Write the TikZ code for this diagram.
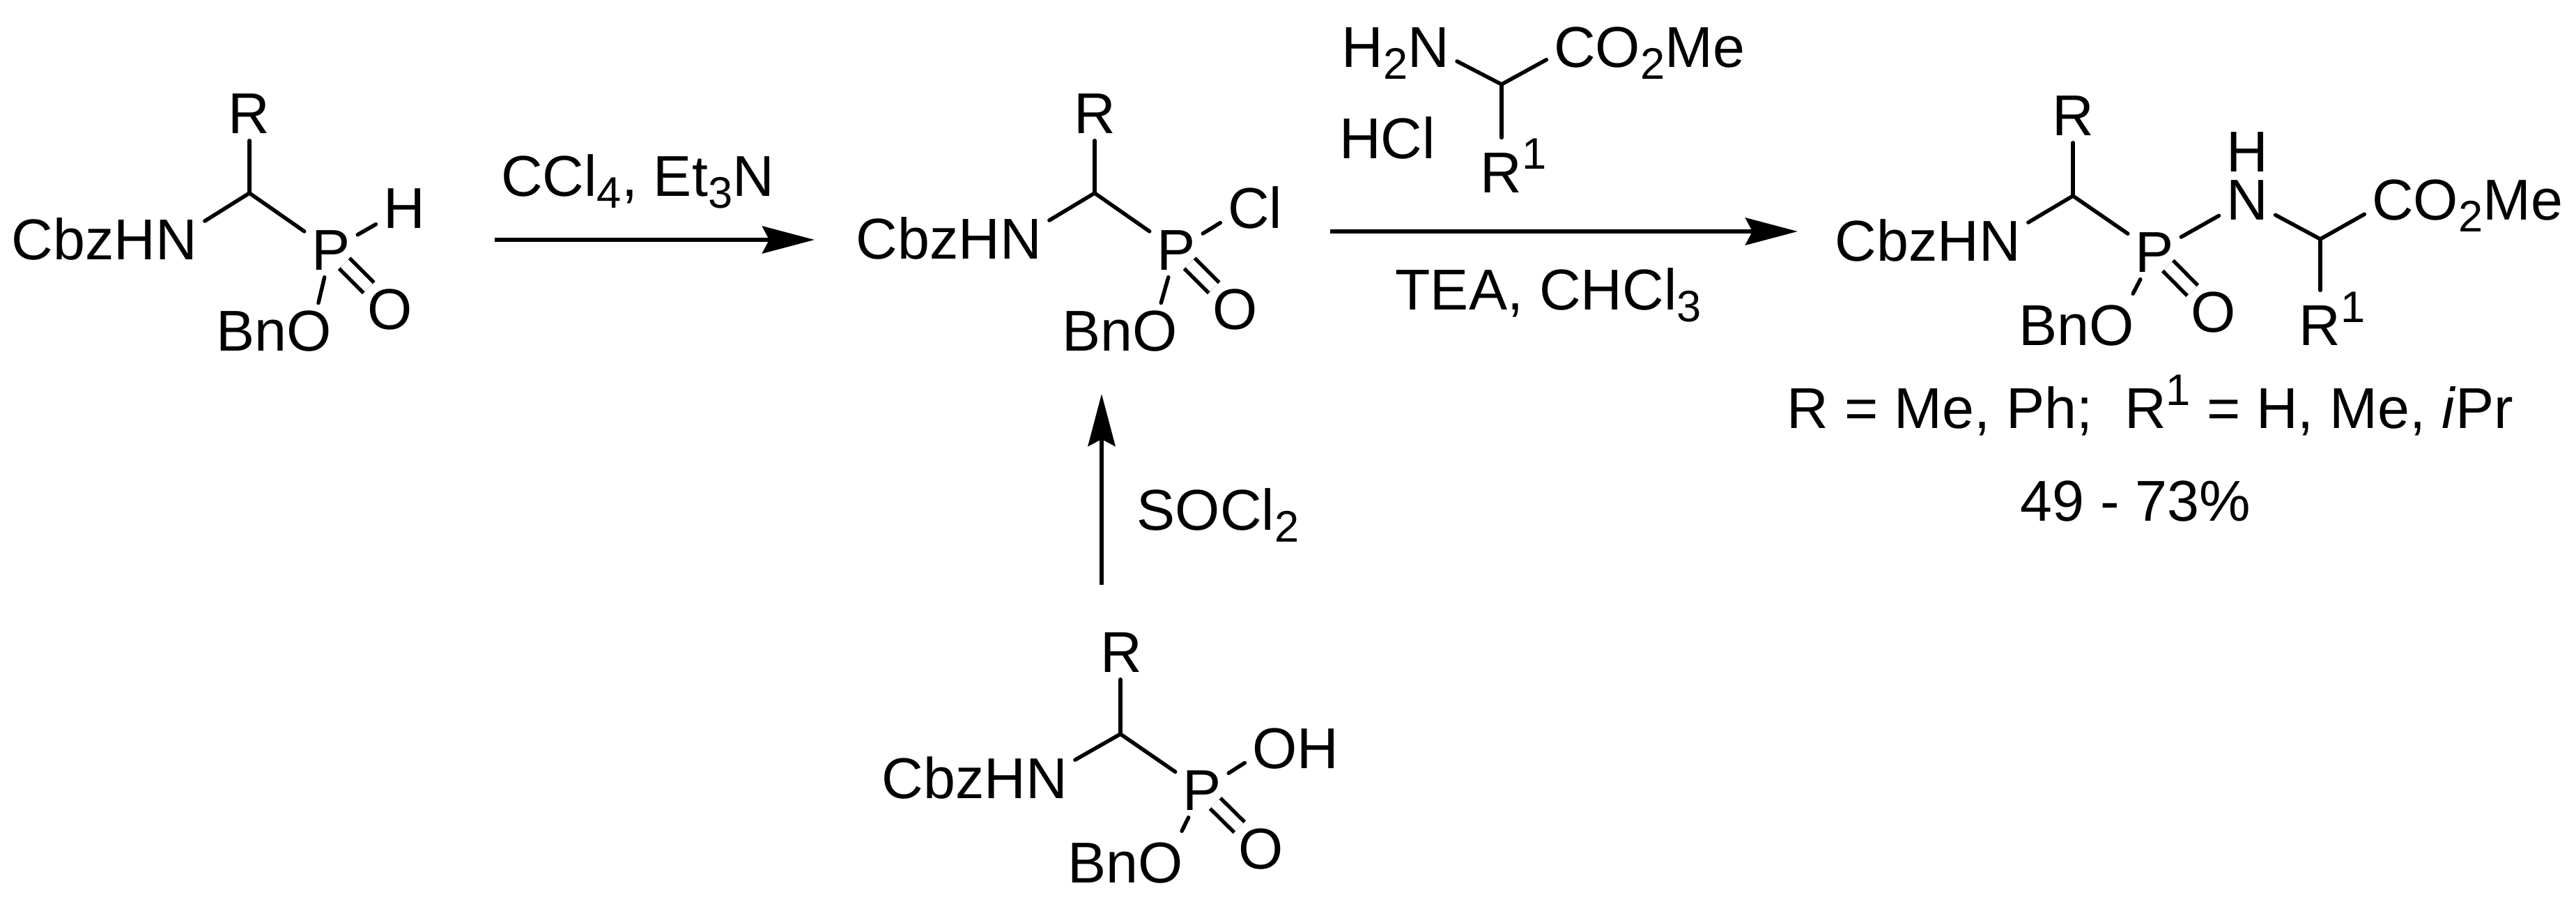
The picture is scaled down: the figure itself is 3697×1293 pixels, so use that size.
\documentclass[tikz,border=0pt]{standalone}
\usepackage{fontspec}
\setmainfont{Liberation Sans}
\usetikzlibrary{arrows.meta}
\newcommand{\sbs}[1]{\smash{\raisebox{-0.17cm}{\fontsize{18}{20}\selectfont #1}}}
\newcommand{\sps}[1]{\smash{\raisebox{0.33cm}{\fontsize{18}{20}\selectfont #1}}}
\tikzset{
  atom/.style={anchor=base,inner sep=0.1cm,font=\fontsize{23.5}{27}\selectfont},
  bond/.style={line width=0.055cm,line cap=round},
  dbl/.style={line width=0.055cm,double,double distance=0.155cm,shorten <=-0.27cm,shorten >=-0.13cm},
  rxn/.style={line width=0.06cm,-{Stealth[length=0.75cm,width=0.39cm,inset=0.1cm]}}
}
\begin{document}
\begin{tikzpicture}[x=0.01cm,y=-0.01cm]
\useasboundingbox (0,0) rectangle (3697,1293);

% H-phosphinate, top left
\coordinate (c1) at (358,277);
\node[atom] (r1) at (357,191) {R};
\node[atom] (n1) at (150,372) {CbzHN};
\node[atom] (p1) at (475,387) {P};
\node[atom] (h1) at (580,327) {H};
\node[atom] (o1) at (560,472) {O};
\node[atom] (bo1) at (393,503) {BnO};
\draw[bond] (c1) -- (c1 |- r1.south);
\draw[bond] (c1) -- (n1.10);
\draw[bond] (c1) -- (p1);
\draw[bond] (p1) -- (h1);
\draw[bond] (p1) -- (bo1.32);
\draw[dbl] (p1) -- (o1);

% First arrow
\coordinate (a1s) at (710,344);
\coordinate (a1e) at (1169,344);
\draw[rxn] (a1s) -- (a1e);
\node[atom] (reag1) at (915,281) {CCl\sbs{4}, Et\sbs{3}N};

% Phosphonochloridate, middle
\coordinate (c2) at (1571,277);
\node[atom] (r2) at (1571,191) {R};
\node[atom] (n2) at (1362,371) {CbzHN};
\node[atom] (p2) at (1688,387) {P};
\node[atom] (cl2) at (1801,327) {Cl};
\node[atom] (o2) at (1773,472) {O};
\node[atom] (bo2) at (1607,503) {BnO};
\draw[bond] (c2) -- (c2 |- r2.south);
\draw[bond] (c2) -- (n2.10);
\draw[bond] (c2) -- (p2);
\draw[bond] (p2) -- (cl2.204);
\draw[bond] (p2) -- (bo2.34);
\draw[dbl] (p2) -- (o2);

% Second arrow with amino ester on top
\coordinate (a2s) at (1909,332);
\coordinate (a2e) at (2580,332);
\draw[rxn] (a2s) -- (a2e);
\coordinate (c5) at (2155,121);
\node[atom] (hn5) at (2003,96) {H\sbs{2}N};
\node[atom] (co5) at (2367,96) {CO\sbs{2}Me};
\node[atom] (hcl) at (1991,227) {HCl};
\node[atom,inner ysep=0.21cm] (r5) at (2172,276) {R\sps{1}};
\draw[bond] (c5) -- (hn5.-13);
\draw[bond] (c5) -- (co5.187);
\draw[bond] (c5) -- (c5 |- r5.north);
\node[atom] (reag2) at (2222,444) {TEA, CHCl\sbs{3}};

% Third arrow
\coordinate (a3s) at (1581,839);
\coordinate (a3e) at (1581,565);
\draw[rxn] (a3s) -- (a3e);
\node[atom] (reag3) at (1748,760) {SOCl\sbs{2}};

% Phosphonate monoester, bottom
\coordinate (c3) at (1608,1053);
\node[atom] (r3) at (1609,964) {R};
\node[atom] (n3) at (1399,1145) {CbzHN};
\node[atom] (p3) at (1725,1162) {P};
\node[atom] (oh3) at (1859,1102) {OH};
\node[atom] (o3) at (1810,1246) {O};
\node[atom] (bo3) at (1615,1266) {BnO};
\draw[bond] (c3) -- (c3 |- r3.south);
\draw[bond] (c3) -- (n3.10);
\draw[bond] (c3) -- (p3);
\draw[bond] (p3) -- (oh3.196);
\draw[bond,shorten >=0.06cm] (p3) -- (bo3.27);
\draw[dbl] (p3) -- (o3);

% Phosphonamidate product, right
\coordinate (c4) at (2975,281);
\coordinate (c6) at (3330,343);
\node[atom] (r4) at (2975,194) {R};
\node[atom] (n4) at (2767,374) {CbzHN};
\node[atom] (p4) at (3092,390) {P};
\node[atom] (n6) at (3225,315) {N};
\node[atom] (h6) at (3225,246) {H};
\node[atom] (o4) at (3177,476) {O};
\node[atom] (bo4) at (2980,495) {BnO};
\node[atom] (co6) at (3541,315) {CO\sbs{2}Me};
\node[atom,inner ysep=0.21cm] (r6) at (3347,495) {R\sps{1}};
\draw[bond] (c4) -- (c4 |- r4.south);
\draw[bond] (c4) -- (n4.10);
\draw[bond] (c4) -- (p4);
\draw[bond] (p4) -- (n6);
\draw[bond,shorten >=0.06cm] (p4) -- (bo4.27);
\draw[dbl] (p4) -- (o4);
\draw[bond] (n6) -- (c6);
\draw[bond] (c6) -- (co6.188);
\draw[bond] (c6) -- (c6 |- r6.north);

% Scope and yield
\node[atom] (scope) at (3086,614) {R = Me, Ph;~ R\sps{1} = H, Me, \textit{i}Pr};
\node[atom] (yield) at (3065,747) {49 - 73\%};
\end{tikzpicture}
\end{document}
